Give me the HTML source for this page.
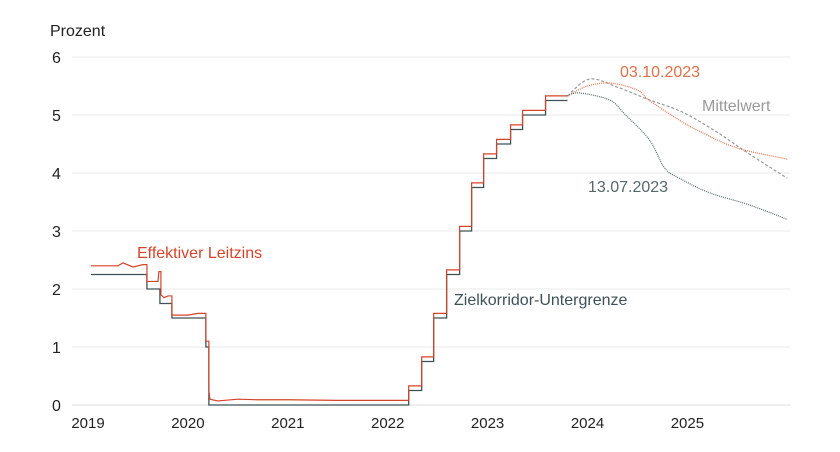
<!DOCTYPE html>
<html><head><meta charset="utf-8">
<style>
html,body{margin:0;padding:0;background:#fff;}
svg{display:block;font-family:"Liberation Sans",sans-serif;}
</style></head>
<body>
<svg id="chart" width="840" height="452"></svg>
<script>
const yTicks=[0,1,2,3,4,5,6];
const xTicks=[2019,2020,2021,2022,2023,2024,2025];
// floor (Zielkorridor-Untergrenze) step changes: [year, value]
const floorDates=[2019.03,2019.59,2019.72,2019.84,2020.18,2020.21,2022.21,2022.34,2022.46,2022.59,2022.72,2022.84,2022.96,2023.09,2023.23,2023.35,2023.58];
const floorVals=[2.25,2.00,1.75,1.50,1.00,0.00,0.25,0.75,1.50,2.25,3.00,3.75,4.25,4.50,4.75,5.00,5.25];
// effective rate points
const effDates=[2019.03,2019.3,2019.35,2019.45,2019.55,2019.59,2019.70,2019.71,2019.73,2019.76,2019.80,2019.84,2020.0,2020.1,2020.18,2020.21,2020.22,2020.3,2020.5,2020.7,2021.0,2021.5,2022.21,2022.34,2022.46,2022.59,2022.72,2022.84,2022.96,2023.09,2023.23,2023.35,2023.58];
const effVals=[2.40,2.40,2.45,2.38,2.42,2.13,2.13,2.30,1.90,1.85,1.88,1.55,1.55,1.58,1.10,0.25,0.10,0.07,0.10,0.09,0.09,0.08,0.33,0.83,1.58,2.33,3.08,3.83,4.33,4.58,4.83,5.08,5.33];
// projections
const meanDates=[2023.80,2024.02,2024.3,2024.62,2024.95,2025.3,2025.6,2026.0];
const meanVals=[5.33,5.62,5.48,5.26,5.05,4.70,4.35,3.91];
const octDates=[2023.80,2024.0,2024.23,2024.5,2024.62,2024.92,2025.12,2025.5,2026.0];
const octVals=[5.33,5.50,5.55,5.43,5.25,4.91,4.72,4.43,4.24];
const julDates=[2023.80,2023.92,2024.22,2024.37,2024.62,2024.77,2024.92,2025.22,2025.62,2026.0];
const julVals=[5.33,5.38,5.26,5.02,4.57,4.09,3.91,3.66,3.45,3.20];

const X=y=>88+(y-2019)*99.9;
const Y=v=>405-v*58;
const NS="http://www.w3.org/2000/svg";
const svg=document.getElementById('chart');
function el(t,a,txt){const e=document.createElementNS(NS,t);for(const k in a)e.setAttribute(k,a[k]);if(txt!=null)e.textContent=txt;svg.appendChild(e);return e;}

yTicks.forEach(v=>{
  const g=el('line',{x1:72,x2:790,y1:Y(v),y2:Y(v),stroke:v===0?'#dddddd':'#e8e8e8','stroke-width':1});
  
  
  const t=el('text',{x:52,y:Y(v)+6,'font-size':16,fill:'#222'},String(v));
  
  
});
xTicks.forEach(y=>{
  const t=el('text',{x:X(y),y:428,'font-size':15,fill:'#222','text-anchor':'middle'},String(y));
  
  
});
const yt=el('text',{x:50,y:36,'font-size':16,fill:'#222'},'Prozent');



function stepPath(ds,vs){let d='M'+X(ds[0])+','+Y(vs[0]);for(let i=1;i<ds.length;i++){d+=' H'+X(ds[i])+' V'+Y(vs[i]);}d+=' H'+X(2023.80);return d;}
function smoothPath(ds,vs){const p=ds.map((x,i)=>[X(x),Y(vs[i])]);let d='M'+p[0][0]+','+p[0][1];for(let i=0;i<p.length-1;i++){const p0=p[i-1]||p[i],p1=p[i],p2=p[i+1],p3=p[i+2]||p2;d+=' C'+(p1[0]+(p2[0]-p0[0])/6)+','+(p1[1]+(p2[1]-p0[1])/6)+' '+(p2[0]-(p3[0]-p1[0])/6)+','+(p2[1]-(p3[1]-p1[1])/6)+' '+p2[0]+','+p2[1];}return d;}

const f=el('path',{d:stepPath(floorDates,floorVals),fill:'none',stroke:'#3e5256','stroke-width':1.3});


let ed='M'+X(effDates[0])+','+Y(effVals[0]);
for(let i=1;i<effDates.length;i++){const jump=Math.abs(effVals[i]-effVals[i-1])>0.2;ed+=jump?(' H'+X(effDates[i])+' V'+Y(effVals[i])):(' L'+X(effDates[i])+','+Y(effVals[i]));}
ed+=' H'+X(2023.80);
const e=el('path',{d:ed,fill:'none',stroke:'#d4442a','stroke-width':1.2});



const m=el('path',{d:smoothPath(meanDates,meanVals),fill:'none',stroke:'#999','stroke-width':1.2,'stroke-dasharray':'3,2'});


const o=el('path',{d:smoothPath(octDates,octVals),fill:'none',stroke:'#e0704a','stroke-width':1.2,'stroke-dasharray':'1,1'});


const j=el('path',{d:smoothPath(julDates,julVals),fill:'none',stroke:'#56686b','stroke-width':1.2,'stroke-dasharray':'1,1'});



const labels=[['Effektiver Leitzins',137,258,'#d4442a','label-effective'],['Zielkorridor-Untergrenze',454,305,'#3e5256','label-floor'],['03.10.2023',620,77,'#e0704a','label-oct'],['Mittelwert',702,111,'#999','label-mean'],['13.07.2023',588,192,'#56686b','label-jul']];
labels.forEach(l=>{const t=el('text',{x:l[1],y:l[2],'font-size':16,fill:l[3]},l[0]);

});
</script>
</body></html>
